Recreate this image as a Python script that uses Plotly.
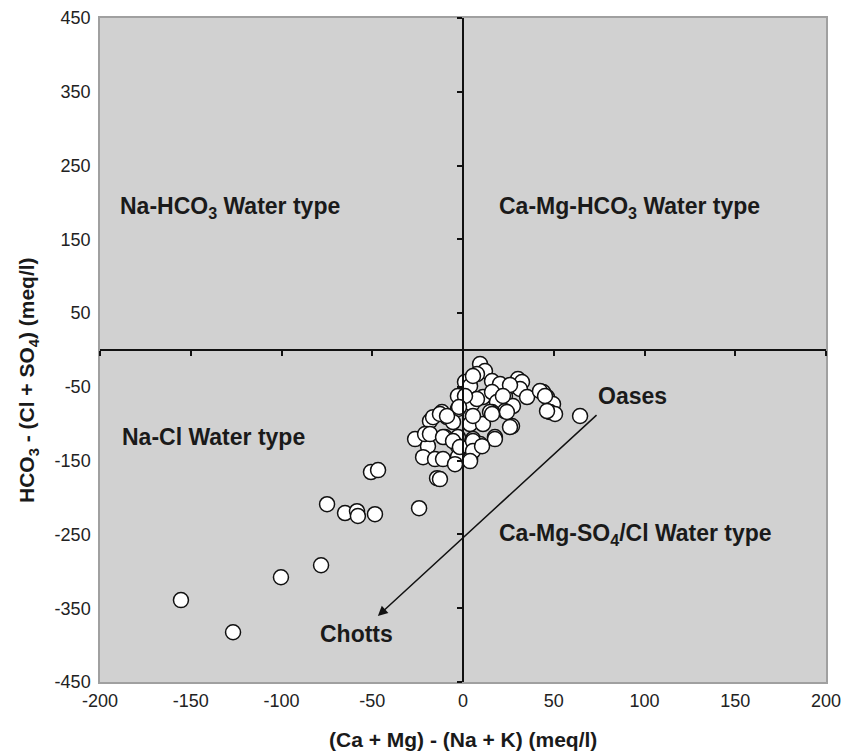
import plotly.graph_objects as go

# Sample points: (Ca+Mg)-(Na+K) and HCO3-(Cl+SO4), meq/l
x_vals = [9.4, 12.1, 7.7, 1.1, 3.9, 16.0, 20.4, 27.0, 30.3, 32.5, 31.4, 35.3, -2.8, 5.0, 11.0,
          16.0, 23.1, 18.7, 27.5, 23.1, 16.0, -2.8, -11.6, -8.8, -18.2, -5.5, 3.9, 11.0, 27.0,
          -26.4, -19.8, -9.9, -2.8, 5.5, 17.6, -19.3, -2.8, 5.5, 9.4, -22.0, -15.4, -11.0, -2.8,
          3.9, -4.4, -14.3, -12.7, 44.1, 46.3, 49.6, 47.9, 50.7, 64.5, 5.5, 25.9, 22.0, 7.7,
          14.9, 24.2, 42.4, 45.2, 46.3, -16.5, -12.7, -20.9, -18.2, -11.0, -5.5, -1.7, 5.5,
          16.0, 17.6, 5.5, 5.5, 10.5, 3.9, 25.9, 1.1, -2.2, -8.8,
          -155.4, -126.7, -100.3, -78.2, -74.9, -65.0, -58.4, -57.9, -48.5, -50.7, -46.8, -24.2]
y_vals = [-19, -28.5, -32.6, -43.4, -48.8, -42.1, -46.1, -48.8, -39.3, -43.4, -52.9, -63.8, -62.4,
          -73.3, -63.8, -57, -62.4, -70.6, -76, -82.8, -84.1, -80, -84.1, -90.9, -96.3, -97.7,
          -100.4, -100.4, -103.1, -120.8, -114, -118, -118, -120.8, -118, -130.3, -130.3, -134.3,
          -127.5, -145.2, -147.9, -147.9, -145.2, -147.9, -154.7, -173.7, -175, -57, -63.8, -73.3,
          -84.1, -86.8, -89.5, -35.3, -47.5, -62.4, -66.5, -84, -84, -55.6, -62.4, -82.8, -91,
          -86.8, -114, -114, -118, -123.5, -131.6, -89.5, -86.8, -120.8, -123.5, -137, -130.3,
          -150.6, -104.5, -62.4, -77.3, -89.5,
          -339, -382.6, -308, -291.7, -209, -221, -218.5, -225, -222.5, -165.5, -162.8, -214.4]

x_ticks = [-200, -150, -100, -50, 0, 50, 100, 150, 200]
y_ticks = [450, 350, 250, 150, 50, -50, -150, -250, -350, -450]
x_ticktext = [str(v) for v in x_ticks]
y_ticktext = [str(v) for v in y_ticks]

# Region labels: text, x, y
label_texts = ["Na-HCO<sub>3</sub> Water type", "Ca-Mg-HCO<sub>3</sub> Water type",
               "Na-Cl Water type", "Ca-Mg-SO<sub>4</sub>/Cl Water type", "Oases", "Chotts"]
label_x = [-190, 18.7, -189, 18.7, 73.3, -80]
label_y = [193, 193, -117.6, -250.6, -63, -385]

# Evolution arrow (Oases -> Chotts)
arrow_tail = (74.4, -86.4)
arrow_head = (-46.9, -360.5)

FONT = "Liberation Sans"
TXT = "#1a1a1a"

fig = go.Figure()
fig.add_trace(go.Scatter(
    x=x_vals, y=y_vals, mode="markers",
    marker=dict(size=15, color="white", line=dict(color="#111111", width=1.5)),
    showlegend=False, hoverinfo="x+y"))
# invisible trace to activate the zero-line axes
fig.add_trace(go.Scatter(x=[0], y=[0], xaxis="x2", yaxis="y2", mode="markers",
                         marker=dict(opacity=0), showlegend=False, hoverinfo="skip"))

for t, lx, ly in zip(label_texts, label_x, label_y):
    fig.add_annotation(x=lx, y=ly, text="<b>" + t + "</b>", showarrow=False,
                       xanchor="left", yanchor="middle",
                       font=dict(family=FONT, size=23, color=TXT))

fig.add_annotation(x=arrow_head[0], y=arrow_head[1], ax=arrow_tail[0], ay=arrow_tail[1],
                   xref="x", yref="y", axref="x", ayref="y", text="", showarrow=True,
                   arrowhead=2, arrowsize=1.3, arrowwidth=1.5, arrowcolor="#111111")

# Axis titles
fig.add_annotation(x=0.5, y=-0.087, xref="paper", yref="paper", showarrow=False,
                   text="<b>(Ca + Mg) - (Na + K) (meq/l)</b>", xanchor="center", yanchor="middle",
                   font=dict(family=FONT, size=21, color=TXT))
fig.add_annotation(x=-0.099, y=0.455, xref="paper", yref="paper", showarrow=False, textangle=-90,
                   text="<b>HCO<sub>3</sub> - (Cl + SO<sub>4</sub>) (meq/l)</b>",
                   xanchor="center", yanchor="middle",
                   font=dict(family=FONT, size=21, color=TXT))

common = dict(showgrid=False, zeroline=False, automargin=False)
fig.update_layout(
    width=850, height=743,
    margin=dict(l=92, r=32, t=10, b=69),
    paper_bgcolor="white", plot_bgcolor="#D1D1D1",
    font=dict(family=FONT, size=18, color="#222222"),
    xaxis=dict(range=[-200, 200], tickvals=x_ticks, ticktext=x_ticktext, ticks="outside",
               ticklen=2, tickcolor="rgba(0,0,0,0)", showline=True, linecolor="#A0A0A0",
               linewidth=1.5, mirror=True, **common),
    yaxis=dict(range=[-450, 450], tickvals=y_ticks, ticktext=y_ticktext, ticks="outside",
               ticklen=4, tickcolor="rgba(0,0,0,0)", showline=True, linecolor="#A0A0A0",
               linewidth=1.5, mirror=True, **common),
    xaxis2=dict(range=[-200, 200], overlaying="x", anchor="free", position=0.5,
                side="bottom", tickvals=x_ticks, ticks="outside", ticklen=5, tickwidth=1.5,
                tickcolor="#111111", showticklabels=False, showline=True,
                linecolor="#111111", linewidth=2, **common),
    yaxis2=dict(range=[-450, 450], overlaying="y", anchor="free", position=0.5,
                side="left", tickvals=y_ticks, ticks="outside", ticklen=5, tickwidth=1.5,
                tickcolor="#111111", showticklabels=False, showline=True,
                linecolor="#111111", linewidth=2, **common),
)

fig.write_html("out.html")
